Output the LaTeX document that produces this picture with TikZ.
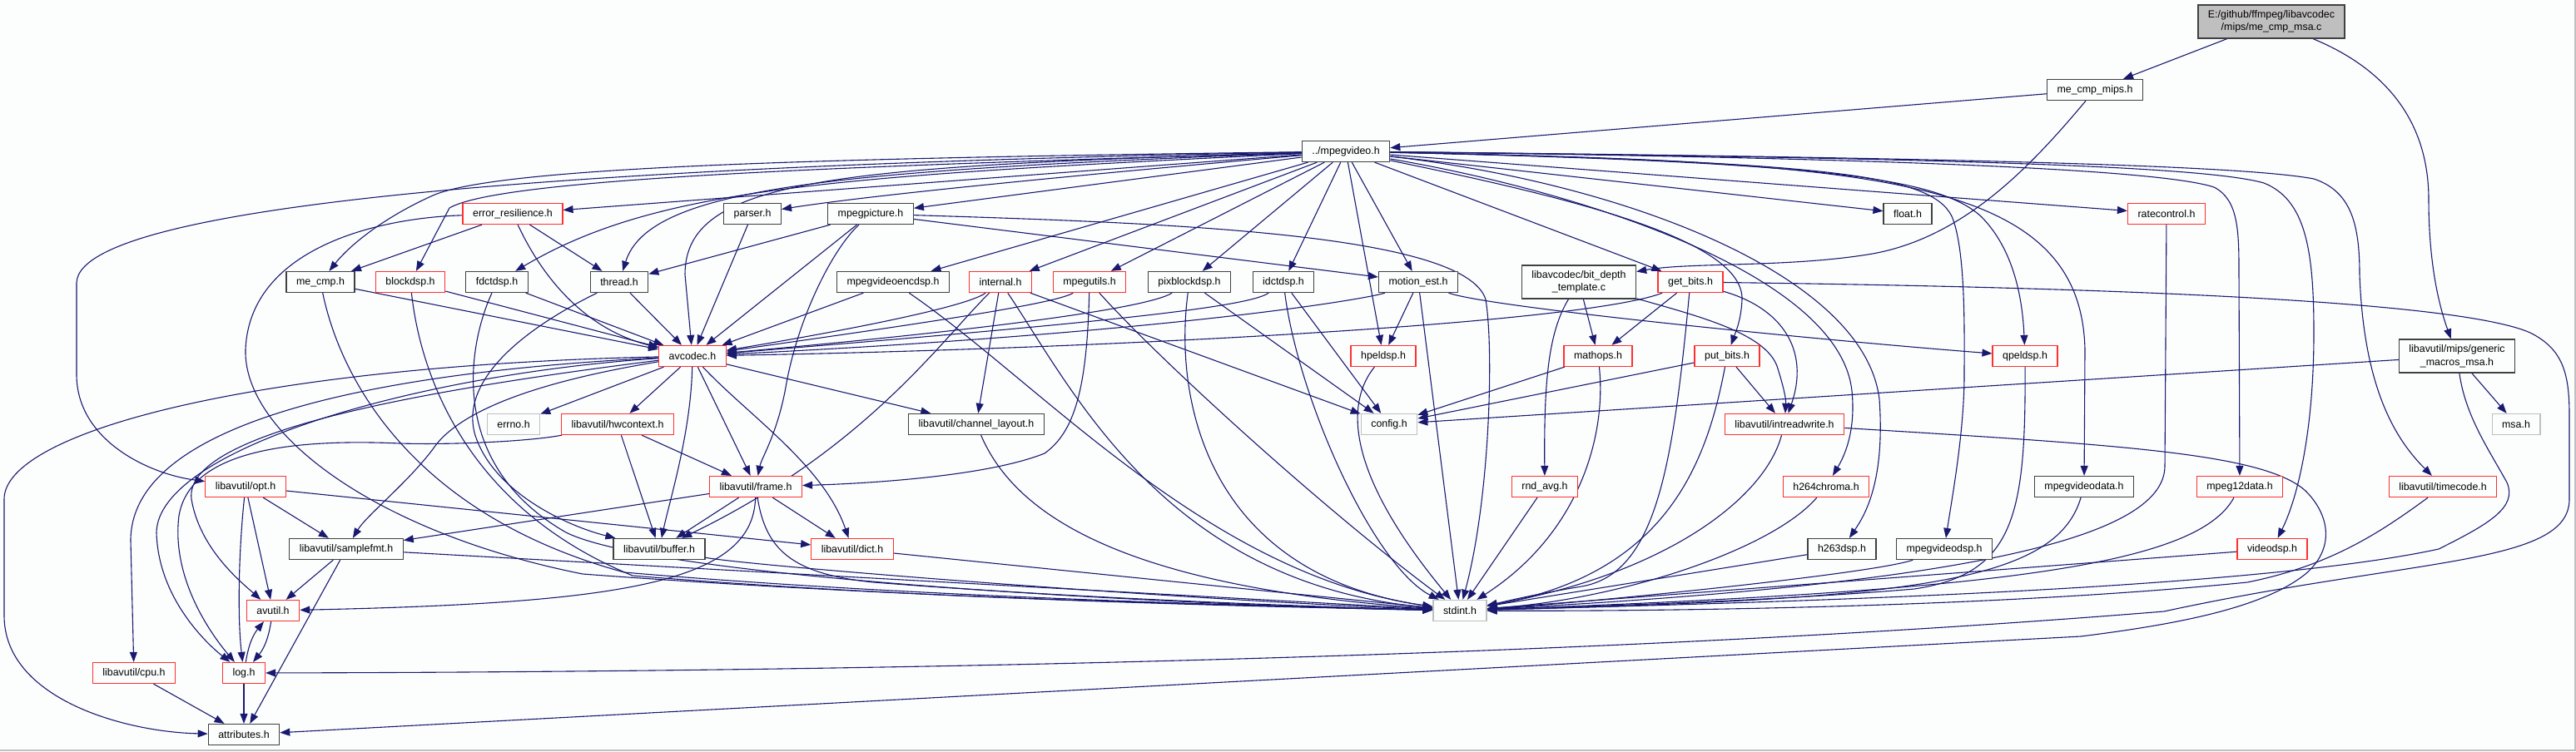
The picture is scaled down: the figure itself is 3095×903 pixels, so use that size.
\documentclass[tikz,border=0pt]{standalone}
\usepackage{fontspec}
\setmainfont{Liberation Sans}
\usetikzlibrary{arrows.meta, backgrounds}
\definecolor{qnavy}{RGB}{25,25,112}
\definecolor{qred}{RGB}{255,48,48}
\definecolor{qdark}{RGB}{64,64,64}
\definecolor{qlight}{RGB}{191,191,191}
\definecolor{qpaper}{RGB}{252,254,253}

\begin{document}
\begin{tikzpicture}[x=1pt, y=-1pt,
  hdr/.style={draw, line width=1.3pt, fill=qpaper, font=\fontsize{12.4}{15.5}\selectfont,
    inner xsep=12pt, inner ysep=6.5pt, minimum height=25pt, align=center},
  redhdr/.style={hdr, draw=qred},
  blkhdr/.style={hdr, draw=qdark},
  gryhdr/.style={hdr, draw=qlight},
  dep/.style={draw=qnavy, line width=1.1pt, -{Triangle[length=12pt,width=9pt]}}]

\useasboundingbox (0,0) rectangle (3095,903);

% headers, one row at a time
\node[hdr, fill=qlight, draw=qdark] (root) at (2729,26) {E:/github/ffmpeg/libavcodec\\/mips/me\_cmp\_msa.c};
\node[blkhdr] (mips) at (2517,108) {me\_cmp\_mips.h};
\node[blkhdr] (mpv) at (1617,182) {../mpegvideo.h};

\node[redhdr] (er) at (616,257) {error\_resilience.h};
\node[blkhdr] (parser) at (904,257) {parser.h};
\node[blkhdr] (mpic) at (1046,257) {mpegpicture.h};
\node[blkhdr] (float) at (2292,257) {float.h};
\node[redhdr] (rc) at (2603,257) {ratecontrol.h};

\node[blkhdr] (mecmp) at (385,339) {me\_cmp.h};
\node[redhdr] (bdsp) at (493,339) {blockdsp.h};
\node[blkhdr] (fdct) at (597,339) {fdctdsp.h};
\node[blkhdr] (thread) at (744,339) {thread.h};
\node[blkhdr] (encdsp) at (1073,339) {mpegvideoencdsp.h};
\node[redhdr] (internal) at (1202,339) {internal.h};
\node[redhdr] (mutils) at (1309,339) {mpegutils.h};
\node[blkhdr] (pix) at (1429,339) {pixblockdsp.h};
\node[blkhdr] (idct) at (1542,339) {idctdsp.h};
\node[blkhdr] (me) at (1704,339) {motion\_est.h};
\node[blkhdr] (bdt) at (1897,339) {libavcodec/bit\_depth\\\_template.c};
\node[redhdr] (gb) at (2031,339) {get\_bits.h};

\node[redhdr] (avc) at (832,428) {avcodec.h};
\node[redhdr] (hpel) at (1662,428) {hpeldsp.h};
\node[redhdr] (mathops) at (1920,428) {mathops.h};
\node[redhdr] (pb) at (2075,428) {put\_bits.h};
\node[redhdr] (qpel) at (2433,428) {qpeldsp.h};
\node[blkhdr] (gmm) at (2952,428) {libavutil/mips/generic\\\_macros\_msa.h};

\node[gryhdr] (errno) at (617,510) {errno.h};
\node[redhdr] (hw) at (742,510) {libavutil/hwcontext.h};
\node[blkhdr] (chl) at (1173,510) {libavutil/channel\_layout.h};
\node[gryhdr] (config) at (1669,510) {config.h};
\node[redhdr] (irw) at (2144,510) {libavutil/intreadwrite.h};
\node[gryhdr] (msa) at (3023,510) {msa.h};

\node[redhdr] (opt) at (295,585) {libavutil/opt.h};
\node[redhdr] (frame) at (908,585) {libavutil/frame.h};
\node[redhdr] (rnd) at (1856,585) {rnd\_avg.h};
\node[redhdr] (h264) at (2194,585) {h264chroma.h};
\node[blkhdr] (mvdata) at (2504,585) {mpegvideodata.h};
\node[redhdr] (m12) at (2691,585) {mpeg12data.h};
\node[redhdr] (tc) at (2935,585) {libavutil/timecode.h};

\node[blkhdr] (sfmt) at (416,660) {libavutil/samplefmt.h};
\node[blkhdr] (buf) at (792,660) {libavutil/buffer.h};
\node[redhdr] (dict) at (1024,660) {libavutil/dict.h};
\node[blkhdr] (h263) at (2213,660) {h263dsp.h};
\node[blkhdr] (mvdsp) at (2336,660) {mpegvideodsp.h};
\node[redhdr] (vdsp) at (2730,660) {videodsp.h};

\node[redhdr] (avutil) at (328,734) {avutil.h};
\node[gryhdr] (stdint) at (1754,734) {stdint.h};
\node[redhdr] (cpu) at (161,809) {libavutil/cpu.h};
\node[redhdr] (log) at (293,809) {log.h};
\node[blkhdr] (attr) at (293,883) {attributes.h};

\begin{scope}[on background layer]
\fill[qpaper] (0,0) rectangle (3095,903);
\draw[qlight, line width=1.5pt] (0,902) -- (3094,902) -- (3094,0);

% me_cmp_msa.c and me_cmp_mips.h
\draw[dep] (root) -- (mips);
\draw[dep] (root) .. controls (2860,80) and (2918,140) .. (2918,240) .. controls (2918,330) and (2935,380) .. (gmm);
\draw[dep] (mips) -- (mpv);
\draw[dep] (mips) .. controls (2440,200) and (2360,285) .. (2250,305) .. controls (2150,322) and (2030,315) .. (bdt);

% ../mpegvideo.h
\draw[dep] (mpv) .. controls (900,195) and (95,230) .. (92,340) -- (92,450) .. controls (92,530) and (180,570) .. (opt);
\draw[dep] (mpv) .. controls (1000,190) and (600,200) .. (520,235) .. controls (460,262) and (420,295) .. (mecmp);
\draw[dep] (mpv) .. controls (1000,200) and (600,215) .. (540,250) -- (bdsp);
\draw[dep] (mpv) -- (er);
\draw[dep] (mpv) .. controls (1000,212) and (790,225) .. (fdct);
\draw[dep] (mpv) .. controls (1000,205) and (780,225) .. (thread);
\draw[dep] (mpv) .. controls (1000,200) and (823,215) .. (823,330) -- (avc);
\draw[dep] (mpv) .. controls (1300,210) and (1050,234) .. (parser);
\draw[dep] (mpv) -- (mpic);
\draw[dep] (mpv) -- (encdsp);
\draw[dep] (mpv) -- (internal);
\draw[dep] (mpv) -- (mutils);
\draw[dep] (mpv) -- (pix);
\draw[dep] (mpv) -- (idct);
\draw[dep] (mpv) -- (hpel);
\draw[dep] (mpv) -- (me);
\draw[dep] (mpv) -- (gb);
\draw[dep] (mpv) -- (float);
\draw[dep] (mpv) -- (rc);
\draw[dep] (mpv) .. controls (1900,240) and (2095,290) .. (2093,360) .. controls (2092,385) and (2085,400) .. (pb);
\draw[dep] (mpv) .. controls (1900,230) and (2210,330) .. (2225,470) .. controls (2230,520) and (2215,550) .. (h264);
\draw[dep] (mpv) .. controls (1950,220) and (2240,330) .. (2258,480) .. controls (2265,580) and (2240,620) .. (h263);
\draw[dep] (mpv) .. controls (2200,195) and (2320,210) .. (2345,260) .. controls (2362,300) and (2360,400) .. (2360,450) .. controls (2360,520) and (2345,600) .. (mvdsp);
\draw[dep] (mpv) .. controls (2200,195) and (2330,215) .. (2380,260) .. controls (2420,300) and (2430,360) .. (qpel);
\draw[dep] (mpv) .. controls (2250,195) and (2500,210) .. (2505,420) -- (mvdata);
\draw[dep] (mpv) .. controls (2300,190) and (2600,205) .. (2660,225) .. controls (2690,240) and (2690,280) .. (2690,330) -- (m12);
\draw[dep] (mpv) .. controls (2350,190) and (2650,200) .. (2720,220) .. controls (2770,240) and (2780,300) .. (2780,400) .. controls (2780,520) and (2760,600) .. (vdsp);
\draw[dep] (mpv) .. controls (2400,190) and (2700,200) .. (2780,215) .. controls (2825,230) and (2835,270) .. (2835,330) .. controls (2840,470) and (2880,530) .. (tc);

% second row
\draw[dep] (er) -- (mecmp);
\draw[dep] (er) .. controls (650,330) and (700,395) .. (avc);
\draw[dep] (er) -- (thread);
\draw[dep] (er) .. controls (450,262) and (300,300) .. (295,420) .. controls (292,520) and (450,640) .. (700,690) .. controls (1100,720) and (1500,728) .. (stdint);
\draw[dep] (parser) -- (avc);
\draw[dep] (mpic) -- (avc);
\draw[dep] (mpic) -- (thread);
\draw[dep] (mpic) .. controls (1000,300) and (960,380) .. (945,460) .. controls (935,520) and (915,550) .. (frame);
\draw[dep] (mpic) -- (me);
\draw[dep] (mpic) .. controls (1400,268) and (1760,280) .. (1785,360) .. controls (1795,420) and (1790,600) .. (stdint);
\draw[dep] (rc) -- (2601,560) .. controls (2601,640) and (2400,700) .. (stdint);

% third row
\draw[dep] (mecmp) -- (avc);
\draw[dep] (mecmp) .. controls (410,460) and (500,620) .. (750,688) .. controls (1100,718) and (1500,728) .. (stdint);
\draw[dep] (bdsp) -- (avc);
\draw[dep] (bdsp) .. controls (505,450) and (560,610) .. (760,692) .. controls (1100,720) and (1500,729) .. (stdint);
\draw[dep] (fdct) -- (avc);
\draw[dep] (fdct) .. controls (560,420) and (540,560) .. (680,640) .. controls (800,700) and (1500,730) .. (stdint);
\draw[dep] (thread) -- (avc);
\draw[dep] (thread) .. controls (620,400) and (555,460) .. (570,520) .. controls (590,590) and (680,632) .. (buf);
\draw[dep] (encdsp) -- (avc);
\draw[dep] (encdsp) .. controls (1250,460) and (1450,690) .. (stdint);
\draw[dep] (internal) .. controls (1160,370) and (1000,400) .. (avc);
\draw[dep] (internal) .. controls (1130,410) and (1040,540) .. (buf);
\draw[dep] (internal) -- (chl);
\draw[dep] (internal) .. controls (1290,470) and (1400,700) .. (stdint);
\draw[dep] (internal) -- (config);
\draw[dep] (mutils) .. controls (1270,365) and (1100,390) .. (avc);
\draw[dep] (mutils) .. controls (1306,470) and (1290,520) .. (1255,545) .. controls (1180,575) and (1020,582) .. (frame);
\draw[dep] (mutils) .. controls (1400,440) and (1600,620) .. (stdint);
\draw[dep] (pix) .. controls (1380,370) and (1200,395) .. (avc);
\draw[dep] (pix) .. controls (1410,480) and (1450,690) .. (stdint);
\draw[dep] (pix) -- (config);
\draw[dep] (idct) .. controls (1500,370) and (1300,390) .. (avc);
\draw[dep] (idct) .. controls (1560,480) and (1650,680) .. (stdint);
\draw[dep] (idct) -- (config);
\draw[dep] (me) .. controls (1640,360) and (1400,400) .. (avc);
\draw[dep] (me) -- (hpel);
\draw[dep] (me) -- (stdint);
\draw[dep] (me) .. controls (1790,370) and (2200,410) .. (qpel);
\draw[dep] (bdt) .. controls (1860,400) and (1855,460) .. (rnd);
\draw[dep] (bdt) -- (mathops);
\draw[dep] (bdt) .. controls (2040,380) and (2120,400) .. (2135,440) .. controls (2143,465) and (2146,480) .. (irw);
\draw[dep] (gb) .. controls (1900,390) and (1300,420) .. (avc);
\draw[dep] (gb) -- (mathops);
\draw[dep] (gb) .. controls (2010,560) and (1990,690) .. (1900,705) .. controls (1840,715) and (1800,725) .. (stdint);
\draw[dep] (gb) .. controls (2140,370) and (2175,420) .. (irw);
\draw[dep] (gb) .. controls (2500,345) and (2950,360) .. (3040,400) .. controls (3080,420) and (3087,450) .. (3087,500) -- (3087,600) .. controls (3087,680) and (2900,670) .. (2600,735) .. controls (1800,800) and (800,808) .. (log);

% fourth row
\draw[dep] (avc) -- (errno);
\draw[dep] (avc) -- (hw);
\draw[dep] (avc) -- (frame);
\draw[dep] (avc) .. controls (830,520) and (805,600) .. (buf);
\draw[dep] (avc) .. controls (900,500) and (990,560) .. (dict);
\draw[dep] (avc) -- (chl);
\draw[dep] (avc) .. controls (700,450) and (560,480) .. (520,540) .. controls (490,580) and (440,620) .. (sfmt);
\draw[dep] (avc) .. controls (500,470) and (220,520) .. (230,600) .. controls (240,660) and (290,700) .. (avutil);
\draw[dep] (avc) .. controls (500,450) and (190,540) .. (188,640) .. controls (190,720) and (250,775) .. (log);
\draw[dep] (avc) .. controls (400,450) and (157,520) .. (157,650) -- (cpu);
\draw[dep] (avc) .. controls (300,440) and (5,520) .. (5,600) -- (5,740) .. controls (5,840) and (150,880) .. (attr);
\draw[dep] (hpel) .. controls (1620,480) and (1610,560) .. (stdint);
\draw[dep] (mathops) -- (config);
\draw[dep] (mathops) .. controls (1930,520) and (1900,640) .. (stdint);
\draw[dep] (pb) -- (config);
\draw[dep] (pb) -- (irw);
\draw[dep] (pb) .. controls (2050,560) and (2000,690) .. (stdint);
\draw[dep] (qpel) .. controls (2434,620) and (2420,690) .. (2300,708) .. controls (2100,725) and (1850,730) .. (stdint);
\draw[dep] (gmm) -- (config);
\draw[dep] (gmm) -- (msa);
\draw[dep] (gmm) .. controls (2962,500) and (2990,540) .. (3012,580) .. controls (3025,610) and (2990,630) .. (2930,660) .. controls (2700,710) and (2100,725) .. (stdint);

% fifth row and below
\draw[dep] (hw) -- (buf);
\draw[dep] (hw) -- (frame);
\draw[dep] (hw) .. controls (640,530) and (550,535) .. (480,533) .. controls (300,525) and (225,560) .. (215,620) .. controls (205,700) and (260,770) .. (log);
\draw[dep] (chl) .. controls (1220,620) and (1350,705) .. (stdint);
\draw[dep] (irw) .. controls (2120,600) and (2000,690) .. (stdint);
\draw[dep] (irw) .. controls (2550,535) and (2720,545) .. (2770,590) .. controls (2800,620) and (2805,660) .. (2770,690) .. controls (2720,730) and (2620,750) .. (2500,765) -- (attr);
\draw[dep] (opt) -- (sfmt);
\draw[dep] (opt) -- (avutil);
\draw[dep] (opt) .. controls (287,660) and (285,740) .. (log);
\draw[dep] (opt) -- (dict);
\draw[dep] (frame) -- (buf);
\draw[dep] (frame) -- (dict);
\draw[dep] (frame) .. controls (905,700) and (750,725) .. (avutil);
\draw[dep] (frame) -- (sfmt);
\draw[dep] (frame) .. controls (920,660) and (950,690) .. (1050,700) .. controls (1300,720) and (1600,730) .. (stdint);
\draw[dep] (rnd) -- (stdint);
\draw[dep] (h264) .. controls (2130,660) and (1950,720) .. (stdint);
\draw[dep] (mvdata) .. controls (2470,700) and (2300,720) .. (stdint);
\draw[dep] (m12) .. controls (2640,680) and (2400,710) .. (stdint);
\draw[dep] (tc) .. controls (2860,640) and (2800,680) .. (2700,700) .. controls (2400,730) and (2000,735) .. (stdint);
\draw[dep] (sfmt) -- (avutil);
\draw[dep] (sfmt) -- (attr);
\draw[dep] (sfmt) -- (stdint);
\draw[dep] (buf) .. controls (900,680) and (1400,720) .. (stdint);
\draw[dep] (dict) -- (stdint);
\draw[dep] (h263) -- (stdint);
\draw[dep] (mvdsp) .. controls (2250,690) and (1900,725) .. (stdint);
\draw[dep] (vdsp) -- (stdint);
\draw[dep] (avutil) to[bend left=15] (log);
\draw[dep] (log) to[bend left=15] (avutil);
\draw[dep] (log) -- (attr);
\draw[dep] (cpu) -- (attr);
\end{scope}
\end{tikzpicture}
\end{document}
